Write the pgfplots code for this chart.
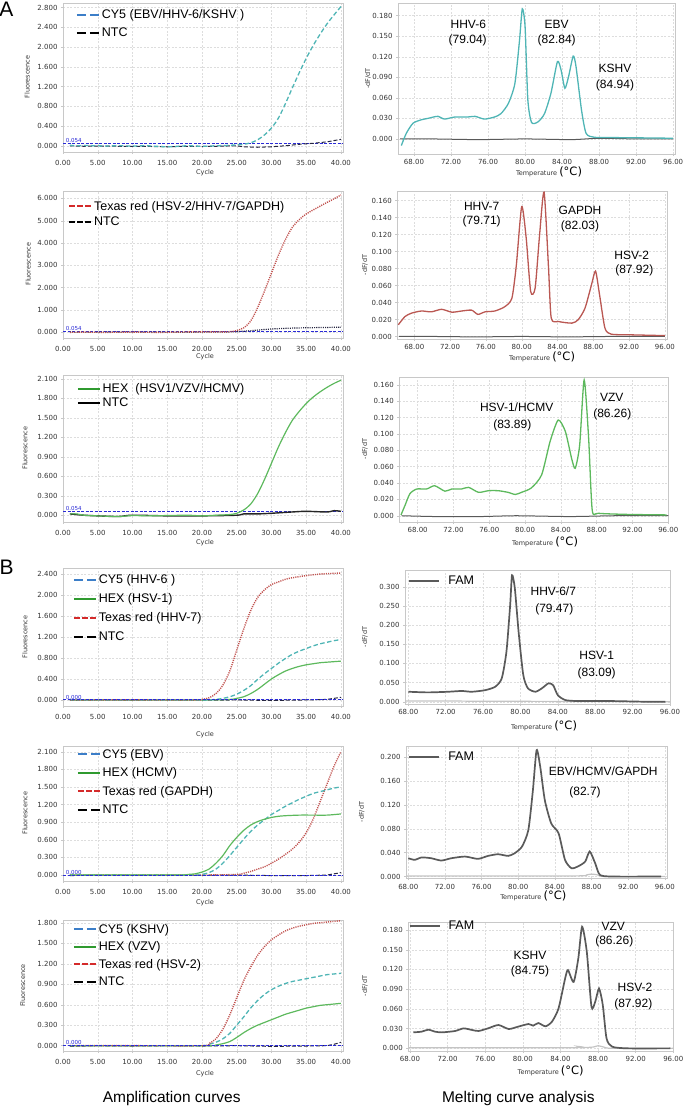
\documentclass[border=0pt]{standalone}
\usepackage{fontspec}
\setmainfont{Liberation Sans}
\newfontfamily\tickfam{DejaVu Sans}
\usepackage{pgfplots}
\pgfplotsset{compat=1.18}

\definecolor{boxgray}{HTML}{C8C8C8}
\definecolor{gridgray}{HTML}{DDDDDD}
\definecolor{tickcol}{HTML}{333333}
\definecolor{tealc}{HTML}{4FB5B5}
\definecolor{cyblue}{HTML}{3C7EC8}
\definecolor{redc}{HTML}{C0504D}
\definecolor{redleg}{HTML}{D42A2A}
\definecolor{greenc}{HTML}{5DB95D}
\definecolor{greenleg}{HTML}{2F9A2F}
\definecolor{threshc}{HTML}{2B2BD6}
\definecolor{ntcc}{HTML}{262640}
\definecolor{meltred}{HTML}{BA5853}
\definecolor{famgray}{HTML}{5A5A5A}
\definecolor{lightg}{HTML}{C4C4C4}

\newcommand{\annot}{\fontsize{12}{13}\selectfont}
\newcommand{\lgf}{\fontsize{12.5}{13}\selectfont}
\newcommand{\labfont}{\tickfam\fontsize{6.5}{7}\selectfont\color{tickcol}}

\pgfplotsset{
  panel/.style={scale only axis, anchor=south west, clip=true,
    axis line style={draw=boxgray},
    grid=major, major grid style={draw=gridgray, dash pattern=on 2pt off 1.5pt, line width=0.4pt},
    tick style={draw=boxgray, line width=0.4pt}, major tick length=2pt,
    tick align=outside, xtick pos=bottom, ytick pos=left,
    ticklabel style={font=\tickfam\fontsize{7}{8}\selectfont, text=tickcol},
    /pgf/number format/assume math mode=true,
    yticklabel style={/pgf/number format/fixed, /pgf/number format/fixed zerofill, /pgf/number format/precision=3},
    xticklabel style={/pgf/number format/fixed, /pgf/number format/fixed zerofill, /pgf/number format/precision=2},
    legend cell align=left,
    legend style={draw=none, fill=none, anchor=north west, inner sep=0pt, nodes={inner sep=1pt, font=\lgf}, column sep=1pt},
    legend image code/.code={\draw[line width=1.8pt, ##1] (0pt,0pt) -- (22pt,0pt);},
  },
  amp/.style={panel, xmin=0, xmax=40.3, width=280pt, xtick={0,5,10,15,20,25,30,35,40},
    xticklabel style={yshift=-3pt}},
  melt/.style={panel, xtick={68,72,76,80,84,88,92,96}},
  cyc/.style={tealc, dash pattern=on 4.5pt off 2.5pt, line width=1.3pt, smooth, forget plot},
  txc/.style={redc, dash pattern=on 1.1pt off 1.1pt, line width=1.4pt, smooth, forget plot},
  hxc/.style={greenc, line width=1.2pt, smooth, forget plot},
  ntc/.style={ntcc, dash pattern=on 4pt off 2pt, line width=1pt, forget plot},
  thr/.style={threshc, dash pattern=on 3pt off 1.5pt, line width=0.9pt, forget plot},
  cyleg/.style={cyblue, dash pattern=on 9pt off 4pt, line width=1.8pt},
  txleg/.style={redleg, dash pattern=on 6pt off 2pt, line width=1.8pt},
  hxleg/.style={greenleg, line width=2pt},
  ntleg/.style={black, dash pattern=on 9pt off 4pt, line width=2pt},
  mc/.style={line width=1.3pt, smooth, tension=0.4, forget plot},
  famc/.style={famgray, line width=1.7pt, smooth, tension=0.4, forget plot},
  famleg/.style={legend style={column sep=7pt}, legend image code/.code={\draw[line width=2pt, ##1] (0pt,0pt) -- (30pt,0pt);}},
}

\begin{document}
\begin{tikzpicture}
\path[use as bounding box] (0pt,0pt) rectangle (685pt,-1108pt);

% ================= A1 left
\begin{axis}[amp, at={(63pt,-151.7pt)}, height=148.7pt, ymin=-0.12, ymax=2.893,
  ytick={0,0.4,0.8,1.2,1.6,2.0,2.4,2.8},
  legend style={at={(axis description cs:0.046,0.965)}, row sep=6pt}]
\addlegendimage{cyleg}\addlegendentry{\lgf CY5 (EBV/HHV-6/KSHV )}
\addlegendimage{ntleg}\addlegendentry{\lgf NTC}
\addplot[thr] coordinates {(0,0.054)(40.3,0.054)};
\addplot[ntc] coordinates {(1,0.0)(3,-0.01)(5,-0.005)(8,-0.01)(10,-0.01)(13,-0.015)(15,-0.02)(18,-0.01)(20,-0.015)(22,-0.01)(25,0.0)(26,-0.02)(28,-0.03)(30,-0.02)(32,0.0)(34,0.03)(36,0.05)(38,0.08)(40,0.13)};
\addplot[cyc] coordinates {(1,0.01)(2,0.0)(3,0.005)(5,0.0)(6,-0.005)(8,0.0)(10,-0.005)(12,0.0)(14,-0.015)(15,-0.02)(16,-0.015)(18,0.0)(20,-0.01)(22,0.0)(24,0.01)(25,0.02)(26,0.03)(27,0.06)(28,0.12)(29,0.22)(30,0.36)(31,0.56)(32,0.85)(33,1.17)(34,1.48)(35,1.77)(36,2.03)(37,2.26)(38,2.47)(39,2.65)(40,2.82)};
\node[font=\tickfam\fontsize{5.5}{6}\selectfont, text=threshc, anchor=south west, inner sep=0.5pt] at (axis cs:0.3,0.054) {0.054};
\end{axis}

% ================= A2 left
\begin{axis}[amp, at={(63pt,-337.7pt)}, height=146.7pt, ymin=-0.24, ymax=6.33,
  ytick={0,1,2,3,4,5,6},
  legend style={at={(axis description cs:0.018,0.940)}, row sep=3.5pt}]
\addlegendimage{txleg}\addlegendentry{\lgf Texas red (HSV-2/HHV-7/GAPDH)}
\addlegendimage{ntleg, dash pattern=on 6pt off 2pt}\addlegendentry{\lgf NTC}
\addplot[thr] coordinates {(0,0.054)(40.3,0.054)};
\addplot[ntcc, dash pattern=on 1.1pt off 1.1pt, line width=1.2pt, smooth, forget plot] coordinates {(1,0.0)(5,0.0)(10,0.01)(15,0.0)(20,0.01)(24,0.02)(26,0.05)(28,0.1)(30,0.15)(33,0.19)(36,0.21)(40,0.23)};
\addplot[txc] coordinates {(1,0.0)(3,0.01)(6,0.0)(10,0.01)(14,0.0)(18,0.02)(22,0.02)(24,0.03)(25,0.08)(26,0.2)(27,0.5)(28,1.1)(29,1.85)(30,2.65)(31,3.45)(32,4.15)(33,4.7)(34,5.05)(35,5.3)(36,5.48)(37,5.65)(38,5.82)(39,5.98)(40,6.15)};
\node[font=\tickfam\fontsize{5.5}{6}\selectfont, text=threshc, anchor=south west, inner sep=0.5pt] at (axis cs:0.3,0.054) {0.054};
\end{axis}

% ================= A3 left
\begin{axis}[amp, at={(63pt,-521.7pt)}, height=146.7pt, ymin=-0.10, ymax=2.16,
  ytick={0,0.3,0.6,0.9,1.2,1.5,1.8,2.1},
  legend style={at={(axis description cs:0.049,0.950)}, row sep=2pt}]
\addlegendimage{hxleg}\addlegendentry{\lgf HEX\ \ (HSV1/VZV/HCMV)}
\addlegendimage{black, line width=2.2pt}\addlegendentry{\lgf NTC}
\addplot[thr] coordinates {(0,0.054)(40.3,0.054)};
\addplot[black!85, line width=1.4pt, smooth, forget plot] coordinates {(1,0.02)(3,0.0)(5,-0.01)(8,-0.02)(10,0.0)(15,-0.01)(20,-0.01)(25,0.0)(26,0.02)(28,0.02)(30,0.03)(33,0.05)(35,0.06)(38,0.05)(39,0.07)(40,0.06)};
\addplot[hxc] coordinates {(1,0.02)(2,0.02)(3,0.0)(5,-0.01)(8,-0.02)(10,-0.005)(12,-0.01)(15,-0.005)(18,0.0)(20,-0.01)(22,0.0)(24,0.01)(25,0.03)(26,0.08)(27,0.17)(28,0.33)(29,0.55)(30,0.8)(31,1.05)(32,1.27)(33,1.46)(34,1.6)(35,1.72)(36,1.82)(37,1.9)(38,1.97)(39,2.03)(40,2.08)};
\node[font=\tickfam\fontsize{5.5}{6}\selectfont, text=threshc, anchor=south west, inner sep=0.5pt] at (axis cs:0.3,0.054) {0.054};
\end{axis}

% ================= B1 left
\begin{axis}[amp, at={(63pt,-705.7pt)}, height=137.4pt, ymin=-0.11, ymax=2.51,
  ytick={0,0.4,0.8,1.2,1.6,2.0,2.4},
  legend style={at={(axis description cs:0.035,0.962)}, row sep=6.5pt}]
\addlegendimage{cyleg}\addlegendentry{\lgf CY5 (HHV-6 )}
\addlegendimage{hxleg}\addlegendentry{\lgf HEX (HSV-1)}
\addlegendimage{txleg}\addlegendentry{\lgf Texas red (HHV-7)}
\addlegendimage{ntleg}\addlegendentry{\lgf NTC}
\addplot[ntc] coordinates {(1,-0.01)(5,0.0)(10,-0.005)(15,0.0)(20,-0.005)(25,0.0)(30,-0.01)(35,0.0)(38,0.01)(39,0.03)(40,0.05)};
\addplot[hxc] coordinates {(1,0.0)(10,0.0)(20,0.0)(24,0.01)(25,0.03)(26,0.06)(27,0.12)(28,0.2)(29,0.3)(30,0.4)(31,0.48)(32,0.55)(33,0.6)(34,0.64)(35,0.67)(36,0.69)(37,0.71)(38,0.72)(39,0.73)(40,0.74)};
\addplot[cyc] coordinates {(1,0.0)(10,0.0)(20,0.0)(22,0.01)(23,0.03)(24,0.06)(25,0.11)(26,0.18)(27,0.27)(28,0.39)(29,0.5)(30,0.6)(31,0.7)(32,0.79)(33,0.87)(34,0.93)(35,0.98)(36,1.03)(37,1.07)(38,1.1)(39,1.13)(40,1.15)};
\addplot[txc] coordinates {(1,0.0)(10,0.0)(19,0.0)(20,0.01)(21,0.04)(22,0.12)(23,0.28)(24,0.55)(25,0.95)(26,1.35)(27,1.7)(28,1.95)(29,2.1)(30,2.2)(31,2.25)(32,2.3)(33,2.33)(35,2.37)(37,2.4)(40,2.42)};
\addplot[thr] coordinates {(0,0)(40.3,0)};
\node[font=\tickfam\fontsize{5.5}{6}\selectfont, text=threshc, anchor=south west, inner sep=0.5pt] at (axis cs:0.3,0) {0.000};
\end{axis}

% ================= B2 left
\begin{axis}[amp, at={(63pt,-880.7pt)}, height=134.7pt, ymin=-0.097, ymax=2.197,
  ytick={0,0.3,0.6,0.9,1.2,1.5,1.8,2.1},
  legend style={at={(axis description cs:0.049,0.987)}, row sep=6pt}]
\addlegendimage{cyleg}\addlegendentry{\lgf CY5 (EBV)}
\addlegendimage{hxleg}\addlegendentry{\lgf HEX (HCMV)}
\addlegendimage{txleg}\addlegendentry{\lgf Texas red (GAPDH)}
\addlegendimage{ntleg}\addlegendentry{\lgf NTC}
\addplot[ntc] coordinates {(1,-0.01)(5,0.0)(10,-0.005)(15,0.0)(20,-0.005)(25,0.0)(30,-0.01)(35,-0.01)(38,0.0)(39,0.02)(40,0.04)};
\addplot[txc] coordinates {(1,0.0)(10,0.0)(20,0.0)(25,0.01)(26,0.03)(27,0.06)(28,0.1)(29,0.14)(30,0.2)(31,0.27)(32,0.35)(33,0.44)(34,0.56)(35,0.72)(36,0.95)(37,1.25)(38,1.55)(39,1.85)(40,2.1)};
\addplot[cyc] coordinates {(1,0.0)(10,0.0)(19,0.0)(20,0.01)(21,0.04)(22,0.1)(23,0.2)(24,0.33)(25,0.47)(26,0.61)(27,0.74)(28,0.85)(29,0.94)(30,1.03)(31,1.1)(32,1.17)(33,1.23)(34,1.29)(35,1.34)(36,1.39)(37,1.42)(38,1.45)(39,1.48)(40,1.5)};
\addplot[hxc] coordinates {(1,0.0)(10,0.0)(17,0.0)(18,0.01)(19,0.02)(20,0.05)(21,0.1)(22,0.2)(23,0.33)(24,0.5)(25,0.64)(26,0.76)(27,0.85)(28,0.91)(29,0.95)(30,0.98)(31,1.0)(32,1.01)(34,1.02)(36,1.02)(38,1.02)(40,1.04)};
\addplot[thr] coordinates {(0,0)(40.3,0)};
\node[font=\tickfam\fontsize{5.5}{6}\selectfont, text=threshc, anchor=south west, inner sep=0.5pt] at (axis cs:0.3,0) {0.000};
\end{axis}

% ================= B3 left
\begin{axis}[amp, at={(63pt,-1051pt)}, height=131pt, ymin=-0.078, ymax=1.84,
  ytick={0,0.3,0.6,0.9,1.2,1.5,1.8},
  legend style={at={(axis description cs:0.035,0.979)}, row sep=5pt}]
\addlegendimage{cyleg}\addlegendentry{\lgf CY5 (KSHV)}
\addlegendimage{hxleg}\addlegendentry{\lgf HEX (VZV)}
\addlegendimage{txleg}\addlegendentry{\lgf Texas red (HSV-2)}
\addlegendimage{ntleg}\addlegendentry{\lgf NTC}
\addplot[ntc] coordinates {(1,-0.01)(5,0.0)(10,-0.005)(15,0.0)(20,-0.005)(25,0.0)(30,-0.01)(35,-0.005)(38,0.0)(39,0.02)(40,0.05)};
\addplot[hxc] coordinates {(1,0.0)(10,0.0)(21,0.0)(22,0.01)(23,0.03)(24,0.06)(25,0.12)(26,0.19)(27,0.25)(28,0.3)(29,0.34)(30,0.38)(31,0.42)(32,0.46)(33,0.49)(34,0.52)(35,0.55)(36,0.57)(37,0.59)(38,0.6)(39,0.61)(40,0.62)};
\addplot[cyc] coordinates {(1,0.0)(10,0.0)(20,0.0)(21,0.02)(22,0.05)(23,0.1)(24,0.18)(25,0.3)(26,0.42)(27,0.55)(28,0.66)(29,0.75)(30,0.82)(31,0.87)(32,0.91)(33,0.94)(34,0.96)(35,0.98)(36,1.0)(37,1.02)(38,1.04)(39,1.05)(40,1.06)};
\addplot[txc] coordinates {(1,0.0)(10,0.0)(20,0.0)(21,0.03)(22,0.1)(23,0.24)(24,0.45)(25,0.7)(26,0.95)(27,1.15)(28,1.32)(29,1.45)(30,1.55)(31,1.62)(32,1.68)(33,1.72)(34,1.75)(35,1.77)(36,1.79)(37,1.8)(38,1.81)(39,1.82)(40,1.83)};
\addplot[thr] coordinates {(0,0)(40.3,0)};
\node[font=\tickfam\fontsize{5.5}{6}\selectfont, text=threshc, anchor=south west, inner sep=0.5pt] at (axis cs:0.3,0) {0.000};
\end{axis}

% ================= A1 right
\begin{axis}[melt, at={(398pt,-154pt)}, width=277pt, height=151pt, xmin=66.27, xmax=96.2, ymin=-0.022, ymax=0.1985,
  ytick={0,0.03,0.06,0.09,0.12,0.15,0.18}]
\addplot[mc, color=black!65, line width=1pt] coordinates {(66.5,0.0)(70,0.0)(75,-0.001)(80,0.0)(85,-0.001)(88,0.001)(92,0.0)(96,0.0)};
\addplot[mc, tealc] coordinates {(66.63,-0.0097)(67.17,0.0083)(67.9,0.023)(68.8,0.028)(69.5,0.030)(70.1,0.032)(70.6,0.033)(71.3,0.029)(72.4,0.032)(73.8,0.032)(74.6,0.033)(75.6,0.029)(76.7,0.032)(77.4,0.037)(78.2,0.052)(78.9,0.081)(79.4,0.144)(79.7,0.190)(80.0,0.164)(80.3,0.057)(80.7,0.024)(81.4,0.025)(82.1,0.037)(82.8,0.067)(83.5,0.113)(83.9,0.10)(84.3,0.074)(84.7,0.091)(85.2,0.121)(85.5,0.106)(86.1,0.042)(86.6,0.008)(87.5,0.0024)(89.3,0.002)(92.9,0.0015)(96,0.001)};
\end{axis}

% ================= A2 right
\begin{axis}[melt, at={(397.3pt,-339pt)}, width=269.4pt, height=148pt, xmin=66.1, xmax=96.2, ymin=-0.003, ymax=0.1714,
  ytick={0,0.02,0.04,0.06,0.08,0.10,0.12,0.14,0.16}]
\addplot[mc, color=black!65, line width=1pt] coordinates {(66.3,0.0)(70,0.0)(75,-0.0005)(80,0.0)(85,-0.0005)(90,0.0)(96,0.0)};
\addplot[mc, meltred] coordinates {(66.21,0.0137)(66.96,0.0235)(67.7,0.0275)(68.8,0.030)(69.9,0.029)(71.05,0.032)(72.2,0.0286)(73.3,0.030)(74.4,0.031)(75.1,0.026)(75.9,0.029)(77.0,0.030)(78.1,0.035)(78.9,0.045)(79.4,0.084)(80.0,0.153)(80.5,0.116)(81.0,0.053)(81.5,0.057)(82.0,0.120)(82.5,0.170)(83.0,0.080)(83.3,0.0216)(84.1,0.0176)(85.6,0.0157)(86.3,0.0196)(87.06,0.033)(87.8,0.061)(88.25,0.077)(88.7,0.049)(89.3,0.0098)(90.0,0.0027)(91.9,0.002)(96,0.001)};
\end{axis}

% ================= A3 right
\begin{axis}[melt, at={(399.3pt,-521.7pt)}, width=269pt, height=145pt, xmin=65.95, xmax=96.0, ymin=-0.0073, ymax=0.170,
  ytick={0,0.02,0.04,0.06,0.08,0.10,0.12,0.14,0.16}]
\addplot[mc, color=black!65, line width=1pt] coordinates {(66.2,0.0)(70,-0.001)(75,-0.001)(79,0.0)(85,-0.001)(90,0.0)(96,0.0)};
\addplot[mc, greenc] coordinates {(66.14,0.001)(66.6,0.013)(67.14,0.027)(67.9,0.0327)(69.0,0.0327)(69.9,0.0367)(71.05,0.030)(71.8,0.0327)(72.9,0.0327)(73.7,0.0347)(74.8,0.0286)(75.9,0.0306)(77.0,0.0306)(78.1,0.0286)(78.9,0.026)(79.6,0.0286)(80.7,0.034)(81.85,0.050)(82.8,0.091)(83.7,0.117)(84.5,0.103)(85.2,0.070)(85.6,0.058)(86.1,0.0865)(86.6,0.166)(87.1,0.0947)(87.5,0.007)(88.2,0.003)(91.5,0.0016)(95.8,0.001)};
\end{axis}

% ================= B1 right
\begin{axis}[melt, famleg, at={(405pt,-704pt)}, width=265pt, height=134pt, xmin=67.65, xmax=96, ymin=-0.006, ymax=0.3436,
  ytick={0,0.05,0.10,0.15,0.20,0.25,0.30},
  legend style={at={(axis description cs:0.012,0.966)}}]
\addlegendimage{famgray}\addlegendentry{\lgf FAM}
\addplot[mc, lightg, line width=1.2pt] coordinates {(67.7,0.002)(72,0.002)(76,0.001)(80,0.001)(96,0.0)};
\addplot[famc] coordinates {(68.0,0.026)(70.1,0.0243)(72.3,0.026)(73.7,0.028)(74.8,0.026)(76.2,0.030)(77.3,0.039)(78.0,0.061)(78.5,0.130)(78.9,0.252)(79.1,0.330)(79.4,0.296)(79.8,0.183)(80.3,0.070)(80.8,0.035)(81.6,0.026)(82.3,0.035)(83.0,0.048)(83.5,0.043)(84.0,0.017)(84.8,0.0043)(86.2,0.0017)(89.75,0.0017)(93.3,0.0)(95.5,0.0)};
\end{axis}

% ================= B2 right
\begin{axis}[melt, famleg, at={(406pt,-878.3pt)}, width=260.7pt, height=132.3pt, xmin=67.75, xmax=96.2, ymin=-0.003, ymax=0.219,
  ytick={0,0.04,0.08,0.12,0.16,0.20},
  legend style={at={(axis description cs:0.008,0.966)}}]
\addlegendimage{famgray}\addlegendentry{\lgf FAM}
\addplot[mc, lightg, line width=1.2pt] coordinates {(67.8,0.001)(86,0.001)(87.5,0.003)(88,0.004)(88.6,0.003)(89.5,0.0)(96,0.0)};
\addplot[famc] coordinates {(68.0,0.0307)(68.7,0.028)(69.45,0.032)(70.5,0.0307)(71.6,0.0268)(72.7,0.0307)(74.2,0.0335)(75.6,0.0296)(76.7,0.0346)(77.8,0.0374)(78.9,0.0346)(79.6,0.039)(80.4,0.050)(81.1,0.078)(81.6,0.145)(82.0,0.212)(82.4,0.184)(82.9,0.128)(83.6,0.089)(84.4,0.0726)(85.1,0.028)(85.8,0.014)(86.5,0.0168)(87.3,0.025)(87.8,0.042)(88.4,0.022)(88.9,0.003)(90.2,0.0)(95.6,0.0)};
\end{axis}

% ================= B3 right
\begin{axis}[melt, famleg, at={(408.3pt,-1050.7pt)}, width=265pt, height=129pt, xmin=67.82, xmax=96, ymin=-0.0036, ymax=0.1926,
  ytick={0,0.03,0.06,0.09,0.12,0.15,0.18},
  legend style={at={(axis description cs:0.0,1.017)}}]
\addlegendimage{famgray}\addlegendentry{\lgf FAM}
\addplot[mc, lightg, line width=1.2pt] coordinates {(67.9,0.001)(85.5,0.001)(85.8,0.003)(86.2,0.001)(87.5,0.002)(88,0.004)(88.6,0.002)(89.5,0.0)(96,0.0)};
\addplot[famc] coordinates {(68.35,0.0243)(69.24,0.0254)(69.95,0.0284)(70.66,0.0254)(71.4,0.0243)(72.8,0.0264)(73.7,0.0304)(74.6,0.0279)(75.3,0.0264)(76.3,0.0304)(77.4,0.0355)(78.5,0.0294)(79.5,0.033)(80.6,0.037)(81.1,0.0345)(81.65,0.0385)(82.4,0.0335)(83.1,0.0406)(83.8,0.0609)(84.5,0.1065)(84.8,0.119)(85.4,0.101)(85.9,0.137)(86.3,0.185)(86.8,0.147)(87.3,0.063)(87.7,0.071)(88.1,0.091)(88.5,0.066)(88.9,0.0152)(89.5,0.0025)(91.2,0.0)(95.7,0.0)};
\end{axis}

% ================= text labels
\node[font=\fontsize{21}{21}\selectfont] at (6.5pt,-9pt) {A};
\node[font=\fontsize{21}{21}\selectfont] at (6.7pt,-567pt) {B};

% axis titles, left
\foreach \yy/\xx in {77/27.3, 264.3/28.3, 448.3/25, 637/25, 813.3/25, 985.5/22.7}
  \node[rotate=90, font=\labfont] at (\xx pt,-\yy pt) {Fluorescence};
\foreach \yy in {172.7, 356.7, 543, 735, 902.3, 1074}
  \node[font=\labfont] at (205pt,-\yy pt) {Cycle};

% axis titles, right
\foreach \yy/\xx in {78.5/368, 265/365, 449/365, 637/365, 812/361.7, 986/365}
  \node[rotate=90, font=\labfont] at (\xx pt,-\yy pt) {-dF/dT};
\foreach \xx/\yy in {549/173.3, 542/357.7, 545/543, 544/727.3, 533.3/896.7, 550.7/1071.7}
  \node[anchor=base, inner sep=0pt] at (\xx pt,-\yy pt-2.5pt) {\labfont Temperature {\fontsize{11.5}{12}\selectfont\color{black}(°C)}};

% melting annotations
\node[font=\annot] at (468.3pt,-24pt) {HHV-6};
\node[font=\annot] at (467.7pt,-40.7pt) {(79.04)};
\node[font=\annot] at (556.7pt,-24pt) {EBV};
\node[font=\annot] at (556.7pt,-40.7pt) {(82.84)};
\node[font=\annot] at (615pt,-68.3pt) {KSHV};
\node[font=\annot] at (615pt,-85pt) {(84.94)};

\node[font=\annot] at (481.7pt,-206.7pt) {HHV-7};
\node[font=\annot] at (481.7pt,-221pt) {(79.71)};
\node[font=\annot] at (580pt,-210pt) {GAPDH};
\node[font=\annot] at (580pt,-226.7pt) {(82.03)};
\node[font=\annot] at (631.7pt,-255pt) {HSV-2};
\node[font=\annot] at (634.3pt,-270pt) {(87.92)};

\node[font=\annot] at (516.7pt,-407.7pt) {HSV-1/HCMV};
\node[font=\annot] at (512.3pt,-425pt) {(83.89)};
\node[font=\annot] at (611.7pt,-397.3pt) {VZV};
\node[font=\annot] at (612.3pt,-414pt) {(86.26)};

\node[font=\annot] at (553.3pt,-591.7pt) {HHV-6/7};
\node[font=\annot] at (554.3pt,-609.3pt) {(79.47)};
\node[font=\annot] at (596.7pt,-655pt) {HSV-1};
\node[font=\annot] at (596.7pt,-673.3pt) {(83.09)};

\node[font=\annot] at (603.3pt,-771.7pt) {EBV/HCMV/GAPDH};
\node[font=\annot] at (585pt,-792.7pt) {(82.7)};

\node[font=\annot] at (613.3pt,-926pt) {VZV};
\node[font=\annot] at (614.3pt,-941pt) {(86.26)};
\node[font=\annot] at (530pt,-955pt) {KSHV};
\node[font=\annot] at (530pt,-971pt) {(84.75)};
\node[font=\annot] at (635pt,-987.7pt) {HSV-2};
\node[font=\annot] at (633.3pt,-1004pt) {(87.92)};

\node[font=\fontsize{15.5}{16}\selectfont] at (171.7pt,-1098.3pt) {Amplification curves};
\node[font=\fontsize{15.5}{16}\selectfont] at (518.3pt,-1098.3pt) {Melting curve analysis};
\end{tikzpicture}
\end{document}
